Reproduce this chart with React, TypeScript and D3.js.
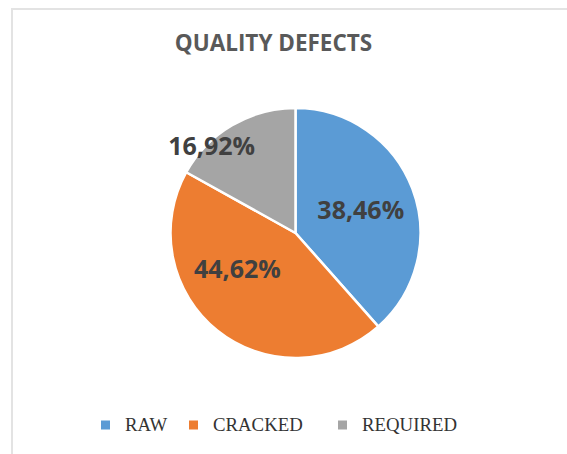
import { useEffect, useRef } from "react";
import * as d3 from "d3";

const categories = ["RAW", "CRACKED", "REQUIRED"];
const shares = [38.46, 44.62, 16.92];
const colors = ["#5B9BD5", "#ED7D31", "#A5A5A5"];
const chartTitle = "QUALITY DEFECTS";

export default function App() {
  const svgRef = useRef<SVGSVGElement | null>(null);

  useEffect(() => {
    if (!svgRef.current) return;
    const width = 567;
    const height = 454;
    const svg = d3.select(svgRef.current).attr("width", width).attr("height", height);
    svg.selectAll("*").remove();

    // chart frame (light grey border, cropped on right/bottom)
    svg.append("rect")
      .attr("x", 12).attr("y", 9)
      .attr("width", width + 10).attr("height", height + 10)
      .attr("fill", "#fff")
      .attr("stroke", "#e3e3e3")
      .attr("stroke-width", 2);

    svg.append("text")
      .attr("x", 273.5)
      .attr("y", 51)
      .attr("text-anchor", "middle")
      .style("font-family", "'Open Sans', sans-serif")
      .style("font-weight", 700)
      .style("font-size", "22.5px")
      .attr("fill", "#595959")
      .text(chartTitle);

    const cx = 295.5, cy = 233, radius = 125;
    const data = categories.map((c, i) => ({ name: c, value: shares[i], color: colors[i] }));

    const pie = d3.pie<any>().sort(null).value(d => d.value);
    const arc = d3.arc<any>().innerRadius(0).outerRadius(radius);
    const labelArc = d3.arc<any>().innerRadius(radius * 0.55).outerRadius(radius * 0.55);

    const g = svg.append("g").attr("transform", `translate(${cx},${cy})`);
    const arcs = pie(data);

    g.selectAll("path.slice")
      .data(arcs)
      .join("path")
      .attr("class", "slice")
      .attr("d", arc)
      .attr("fill", d => d.data.color)
      .attr("stroke", "#fff")
      .attr("stroke-width", 2.5)
      .attr("stroke-linejoin", "round");

    // Excel "best fit" nudges for the labels
    const nudge: [number, number][] = [[1, 1], [-15, -18], [-49, -28]];

    g.selectAll("text.lbl")
      .data(arcs)
      .join("text")
      .attr("class", "lbl")
      .attr("transform", (d, i) => {
        const [x, y] = labelArc.centroid(d);
        return `translate(${x + nudge[i][0]},${y + nudge[i][1]})`;
      })
      .attr("text-anchor", "middle")
      .attr("dy", "0.36em")
      .style("font-family", "'Open Sans', sans-serif")
      .style("font-weight", 700)
      .style("font-size", "25px")
      .attr("fill", "#404040")
      .text(d => d.data.value.toFixed(2).replace(".", ",") + "%");

    // legend
    const legendX = [101, 189, 338];
    const legend = svg.append("g");
    data.forEach((d, i) => {
      const item = legend.append("g").attr("transform", `translate(${legendX[i]},425)`);
      item.append("rect")
        .attr("x", 0).attr("y", -4.5)
        .attr("width", 9).attr("height", 9)
        .attr("fill", d.color);
      item.append("text")
        .attr("x", 24)
        .attr("y", 6)
        .style("font-family", "'Liberation Serif', serif")
        .style("font-size", "18.8px")
        .attr("fill", "#333")
        .text(d.name);
    });
  }, []);

  return (
    <svg ref={svgRef} style={{ position: "absolute", left: 0, top: 0, display: "block" }}></svg>
  );
}
